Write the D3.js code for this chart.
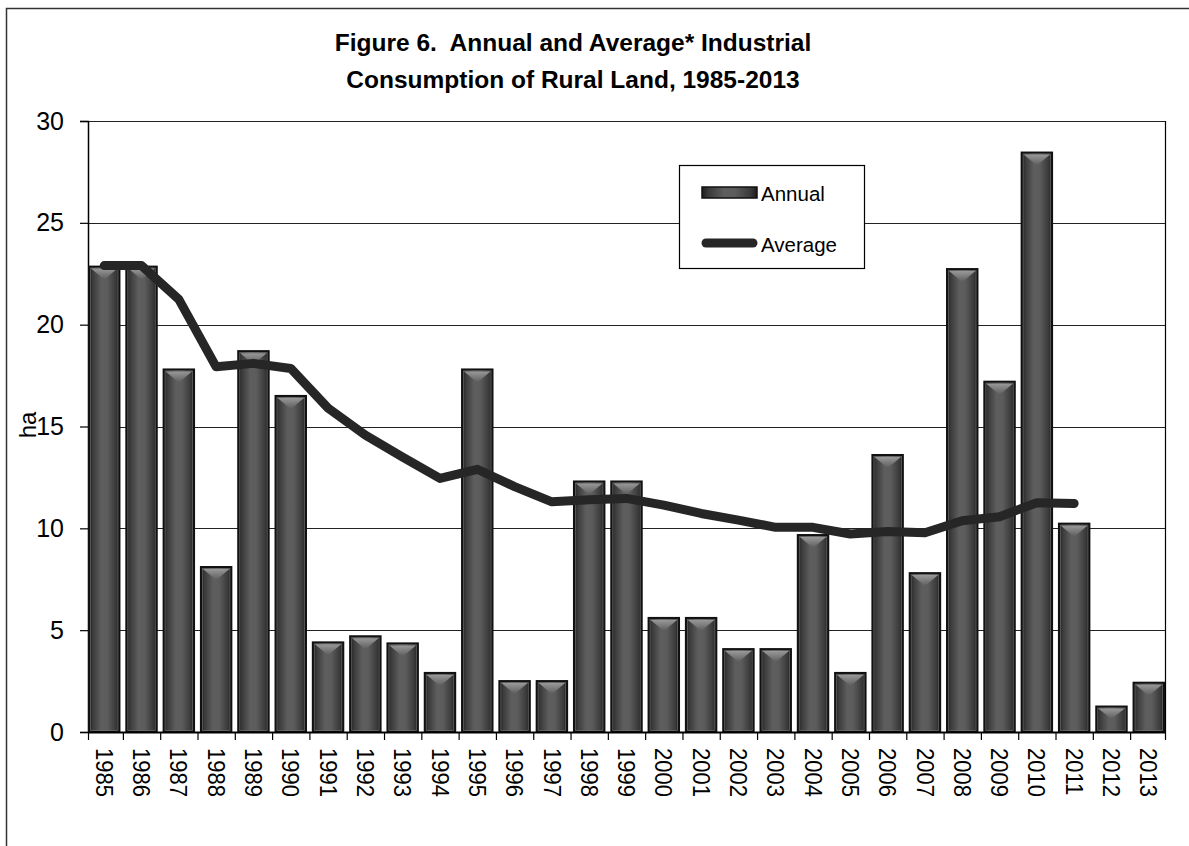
<!DOCTYPE html>
<html>
<head>
<meta charset="utf-8">
<script src="https://cdn.jsdelivr.net/npm/d3@7"></script>
<style>
  html, body { margin: 0; padding: 0; background: #fff; }
  svg { display: block; font-family: "Liberation Sans", Arial, sans-serif; }
</style>
</head>
<body>
<svg id="chart" width="1189" height="846"></svg>
<script>
const years = ["1985","1986","1987","1988","1989","1990","1991","1992","1993","1994","1995","1996","1997","1998","1999","2000","2001","2002","2003","2004","2005","2006","2007","2008","2009","2010","2011","2012","2013"];
const annual = [22.9,22.9,17.85,8.15,18.75,16.55,4.45,4.75,4.4,2.95,17.85,2.55,2.55,12.35,12.35,5.65,5.65,4.12,4.12,9.72,2.95,13.65,7.85,22.78,17.25,28.5,10.28,1.3,2.47];
const averageYears = ["1985","1986","1987","1988","1989","1990","1991","1992","1993","1994","1995","1996","1997","1998","1999","2000","2001","2002","2003","2004","2005","2006","2007","2008","2009","2010","2011"];
const average = [22.9,22.9,21.24,17.93,18.1,17.85,15.9,14.58,13.5,12.45,12.9,12.05,11.3,11.4,11.47,11.14,10.73,10.4,10.05,10.05,9.72,9.85,9.78,10.37,10.57,11.26,11.22];
const yTicks = [0,5,10,15,20,25,30];
const titleLines = ["Figure 6.  Annual and Average* Industrial", "Consumption of Rural Land, 1985-2013"];
const yTitle = "ha";
const legendLabels = ["Annual", "Average"];

const svg = d3.select("#chart");
const L = 88, R = 1165, T = 121, B = 732;

const x = d3.scaleBand().domain(years).range([L, R]).paddingInner(0.13).paddingOuter(0);
const y = d3.scaleLinear().domain([0, 30]).range([B, T]);

// defs
const defs = svg.append("defs");
const g1 = defs.append("linearGradient").attr("id", "barGrad").attr("x1", "0").attr("x2", "1").attr("y1", "0").attr("y2", "0");
[[0,"#1c1c1c"],[0.12,"#3a3a3a"],[0.4,"#5e5e5e"],[0.6,"#5c5c5c"],[0.88,"#3a3a3a"],[1,"#1c1c1c"]].forEach(([o,c]) => g1.append("stop").attr("offset", o).attr("stop-color", c));
const g2 = defs.append("linearGradient").attr("id", "bevelGrad").attr("x1", "0").attr("x2", "0").attr("y1", "0").attr("y2", "1");
[[0,"#a0a0a0"],[1,"#5c5c5c"]].forEach(([o,c]) => g2.append("stop").attr("offset", o).attr("stop-color", c));

// outer frame (partial, as in reference)
svg.append("path").attr("d", "M6.5,846 V8.5 H1189").attr("fill", "none").attr("stroke", "#333").attr("stroke-width", 1.5);

// title
const title = svg.append("text").attr("text-anchor", "middle")
  .attr("font-weight", "bold").attr("font-size", "24.5px").attr("fill", "#000")
  .style("white-space", "pre");
titleLines.forEach((t, i) => title.append("tspan").attr("x", 573).attr("y", 51 + i * 37).text(t));

// gridlines
svg.append("g").selectAll("line").data(yTicks.filter(d => d > 0)).join("line")
  .attr("x1", L).attr("x2", R).attr("y1", d => Math.round(y(d)) + 0.5).attr("y2", d => Math.round(y(d)) + 0.5)
  .attr("stroke", "#222").attr("stroke-width", 1.2);

// right border
svg.append("line").attr("x1", R + 0.5).attr("x2", R + 0.5).attr("y1", T).attr("y2", B).attr("stroke", "#000").attr("stroke-width", 1.2);

// y axis
const yAxis = d3.axisLeft(y).tickValues(yTicks).tickSize(8).tickPadding(16).tickFormat(d3.format("d"));
const ya = svg.append("g").attr("transform", `translate(${L},0)`).call(yAxis);
ya.select(".domain").attr("stroke", "#000").attr("stroke-width", 1.5);
ya.selectAll(".tick line").attr("stroke", "#000").attr("stroke-width", 1.2);
ya.selectAll(".tick text").attr("font-size", "25px").attr("fill", "#000").attr("font-family", "Liberation Sans, Arial, sans-serif");

// y title
svg.append("text").attr("transform", "translate(27,425) rotate(-90)").attr("text-anchor", "middle")
  .attr("dominant-baseline", "central").attr("font-size", "24px").attr("fill", "#000").text(yTitle);

// bars
const step = x.step();
const bars = svg.append("g");
years.forEach((yr, i) => {
  const bx = x(yr), bw = x.bandwidth(), top = y(annual[i]), h = B - top;
  bars.append("rect").attr("x", bx + 1).attr("y", top + 1).attr("width", bw - 2).attr("height", h - 1)
    .attr("fill", "url(#barGrad)").attr("stroke", "#111").attr("stroke-width", 2);
  bars.append("rect").attr("x", bx + 2.5).attr("y", top + 2.5).attr("width", bw - 5).attr("height", Math.max(0, h - 4))
    .attr("fill", "none").attr("stroke", "#777").attr("stroke-width", 0.8).attr("opacity", 0.7);
  const th = Math.min(11, h / 2.5);
  bars.append("path")
    .attr("d", `M${bx + 3},${top + 3} L${bx + bw - 3},${top + 3} L${bx + bw / 2},${top + 3 + th} Z`)
    .attr("fill", "url(#bevelGrad)").attr("opacity", 0.9);
});

// x axis
const xa = svg.append("g").attr("transform", `translate(0,${B})`);
xa.append("line").attr("x1", L).attr("x2", R).attr("y1", 0.5).attr("y2", 0.5).attr("stroke", "#000").attr("stroke-width", 1.8);
const boundaries = years.map((yr, i) => i === 0 ? L : x(yr) - (step - x.bandwidth()) / 2).concat([R]);
xa.selectAll("line.tk").data(boundaries).join("line").attr("class", "tk")
  .attr("x1", d => d + 0.5).attr("x2", d => d + 0.5).attr("y1", 0).attr("y2", 8)
  .attr("stroke", "#000").attr("stroke-width", 1.2);
xa.selectAll("text").data(years).join("text")
  .attr("transform", d => `translate(${x(d) + x.bandwidth() / 2},16) rotate(90) scale(1,1.1)`)
  .attr("text-anchor", "start").attr("dominant-baseline", "central")
  .attr("font-size", "22px").attr("fill", "#000").text(d => d);

// average line
const line = d3.line().x((d, i) => x(averageYears[i]) + x.bandwidth() / 2).y(d => y(d));
svg.append("path").datum(average).attr("d", line).attr("fill", "none")
  .attr("stroke", "#262626").attr("stroke-width", 9).attr("stroke-linejoin", "round").attr("stroke-linecap", "round");

// legend
const lg = svg.append("g");
lg.append("rect").attr("x", 679.5).attr("y", 165.5).attr("width", 185).attr("height", 103)
  .attr("fill", "#fff").attr("stroke", "#000").attr("stroke-width", 1.2);
lg.append("rect").attr("x", 702).attr("y", 187).attr("width", 55).attr("height", 11)
  .attr("fill", "url(#barGrad)").attr("stroke", "#111").attr("stroke-width", 1.5);
lg.append("line").attr("x1", 706).attr("x2", 753).attr("y1", 243).attr("y2", 243)
  .attr("stroke", "#262626").attr("stroke-width", 9).attr("stroke-linecap", "round");
lg.selectAll("text").data(legendLabels).join("text")
  .attr("x", 761).attr("y", (d, i) => 193 + i * 51).attr("dominant-baseline", "central")
  .attr("font-size", "20.5px").attr("fill", "#000").text(d => d);
</script>
</body>
</html>
